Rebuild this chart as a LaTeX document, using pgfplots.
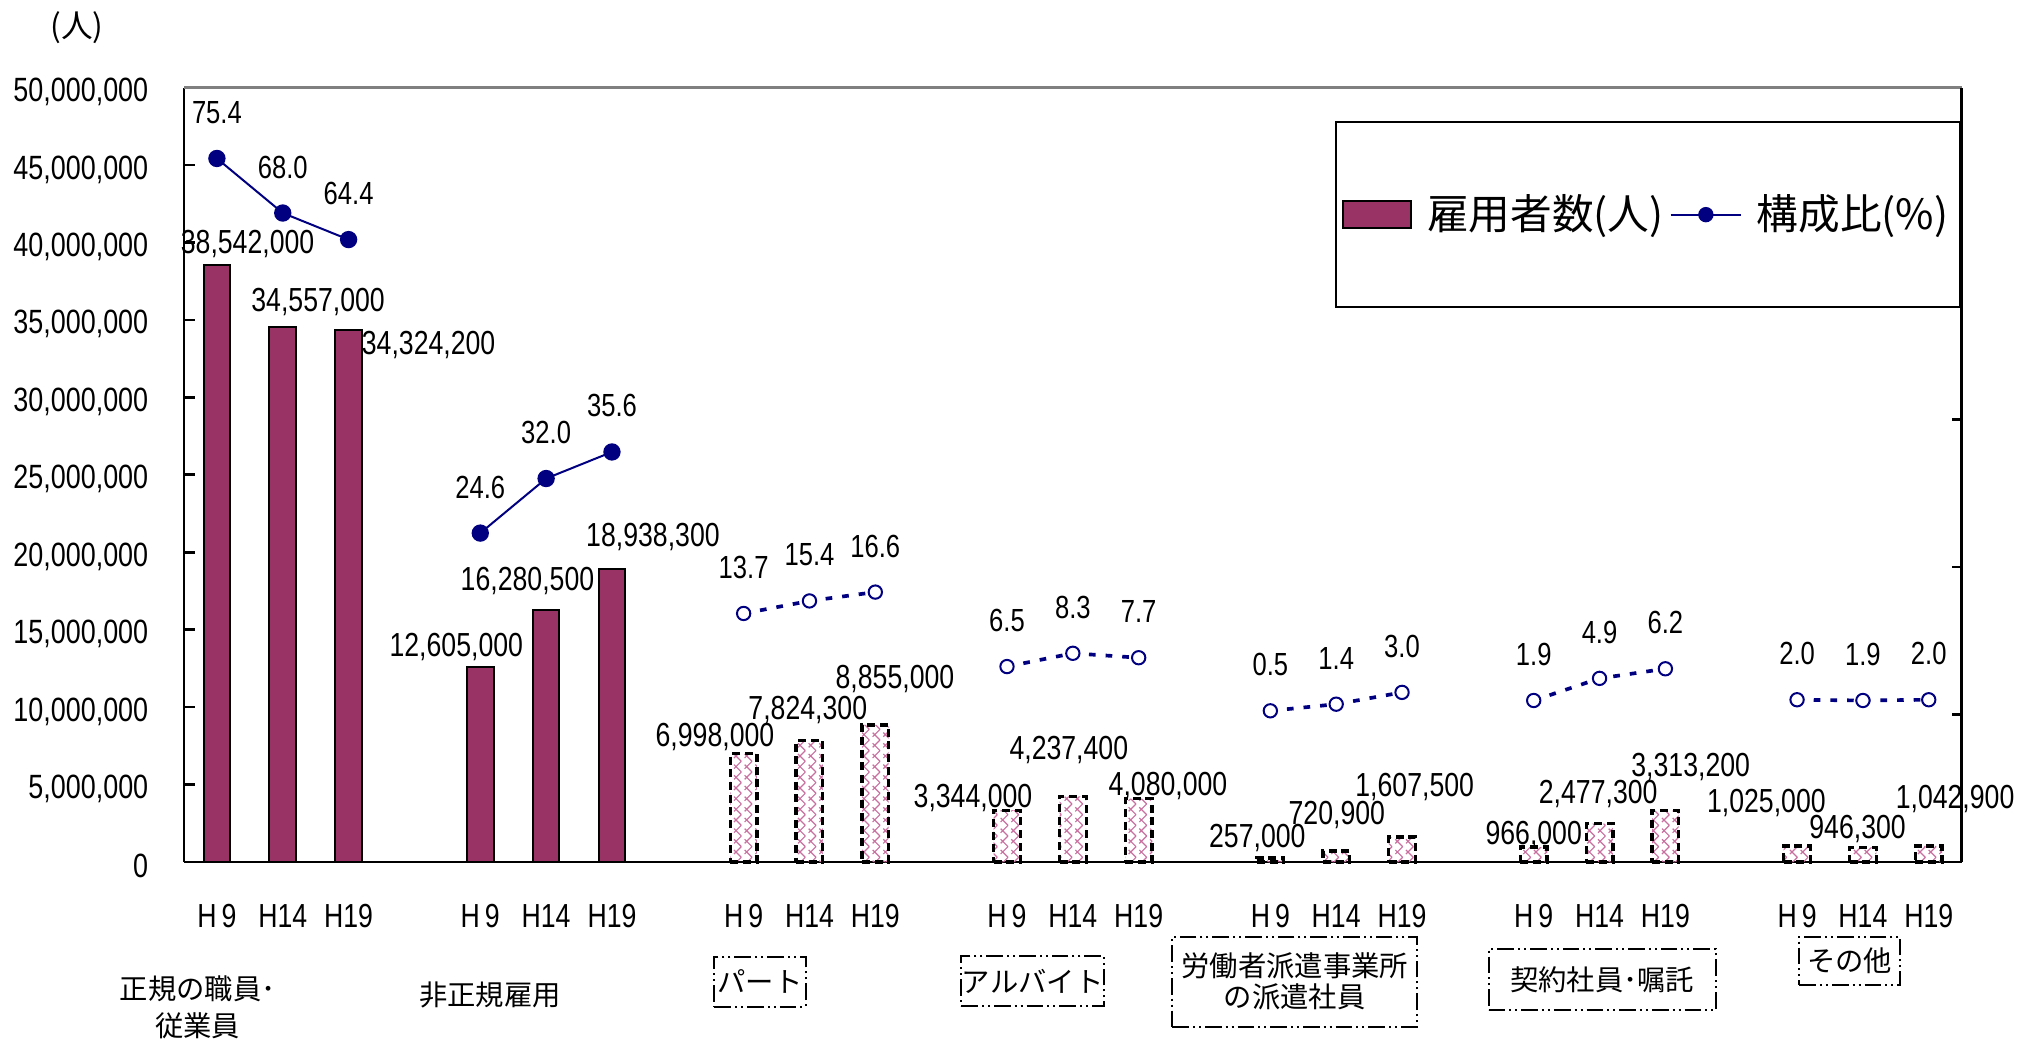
\documentclass[border=0pt]{standalone}
\usepackage{fontspec}
\setmainfont{Liberation Sans}[FakeStretch=0.8]
\newfontfamily\jp{Noto Sans CJK JP}
\usepackage{pgfplots}
\usepackage{pgfplotstable}
\pgfplotsset{compat=1.18}
\usetikzlibrary{patterns}

\definecolor{barcol}{HTML}{993366}
\definecolor{hatchcol}{HTML}{C8709F}
\definecolor{navy}{HTML}{000080}

% diagonal cross hatch for the non-regular breakdown bars
\pgfdeclarepatternformonly{xhatch}{\pgfqpoint{-0.5pt}{-0.5pt}}{\pgfqpoint{3.7pt}{3.7pt}}{\pgfqpoint{3.2pt}{3.2pt}}{%
  \pgfsetlinewidth{0.35pt}%
  \pgfpathmoveto{\pgfqpoint{-0.1pt}{-0.1pt}}\pgfpathlineto{\pgfqpoint{3.3pt}{3.3pt}}%
  \pgfpathmoveto{\pgfqpoint{-0.1pt}{3.3pt}}\pgfpathlineto{\pgfqpoint{3.3pt}{-0.1pt}}%
  \pgfusepath{stroke}}

\pgfplotsset{
  barlegend/.style={legend image code/.code={\draw[##1] (0pt,-4.1pt) rectangle (20.6pt,4.1pt);}},
  linelegend/.style={legend image code/.code={\draw[mark repeat=2, mark phase=2, mark size=2pt, ##1]
    plot coordinates {(0pt,0pt) (10.6pt,0pt) (21.2pt,0pt)};}},
}

% x = slot, dx/dy = label shift in pt
\pgfplotstableread{
x y dx dy lbl
0 38542000 9.2 6.2 38,542,000
1 34557000 10.6 7.3 34,557,000
2 34324200 24.0 -4.5 34,324,200
4 12605000 -7.2 6.0 12,605,000
5 16280500 -5.6 8.6 16,280,500
6 18938300 12.3 9.6 18,938,300
}\regular

\pgfplotstableread{
x y dx dy lbl
8 6998000 -8.6 5.1 6,998,000
9 7824300 -0.5 9.3 7,824,300
10 8855000 5.9 13.8 8,855,000
12 3344000 -10.2 3.8 3,344,000
13 4237400 -1.2 13.8 4,237,400
14 4080000 8.8 3.8 4,080,000
16 257000 -3.9 6.0 257,000
17 720900 0.2 10.7 720,900
18 1607500 3.8 15.1 1,607,500
20 966000 0.0 3.6 966,000
21 2477300 -0.4 8.8 2,477,300
22 3313200 7.6 13.0 3,313,200
24 1025000 -9.2 12.8 1,025,000
25 946300 -1.6 5.4 946,300
26 1042900 7.9 14.0 1,042,900
}\nonregular

\pgfplotstableread{
x y lbl
0 75.4 75.4
1 68.0 68.0
2 64.4 64.4
3 nan -
4 24.6 24.6
5 32.0 32.0
6 35.6 35.6
}\pctsolid

\pgfplotstableread{
x y lbl
8 13.7 13.7
9 15.4 15.4
10 16.6 16.6
11 nan -
12 6.5 6.5
13 8.3 8.3
14 7.7 7.7
15 nan -
16 0.5 0.5
17 1.4 1.4
18 3.0 3.0
19 nan -
20 1.9 1.9
21 4.9 4.9
22 6.2 6.2
23 nan -
24 2.0 2.0
25 1.9 1.9
26 2.0 2.0
}\pctdash

\tikzset{gframe/.style={draw, line width=0.6pt,
  dash pattern=on 5pt off 1.2pt on 0.6pt off 1.2pt on 0.6pt off 1.2pt,
  inner sep=0pt, align=center, font=\jp\fontsize{8.5}{9.3}\selectfont}}

\begin{document}
\begin{tikzpicture}
\path[use as bounding box] (-55.2pt,-54.6pt) rectangle (549.9pt,258.6pt);

\begin{axis}[
  at={(0,0)}, anchor=south west,
  scale only axis, width=533.3pt, height=232.3pt,
  xmin=-0.5, xmax=26.5, ymin=0, ymax=50000000,
  axis x line*=bottom, axis y line*=left,
  axis line style={line width=0.8pt},
  clip=false,
  xtick={0,1,2,4,5,6,8,9,10,12,13,14,16,17,18,20,21,22,24,25,26},
  xticklabels={H\hspace{1.5pt}9,H14,H19,H\hspace{1.5pt}9,H14,H19,H\hspace{1.5pt}9,H14,H19,
    H\hspace{1.5pt}9,H14,H19,H\hspace{1.5pt}9,H14,H19,H\hspace{1.5pt}9,H14,H19,H\hspace{1.5pt}9,H14,H19},
  xtick style={draw=none},
  xticklabel style={font=\fontsize{10}{11}\selectfont, anchor=center, yshift=-16.2pt},
  ytick distance=5000000,
  scaled y ticks=false,
  yticklabel style={/pgf/number format/.cd, fixed, precision=0, 1000 sep={,},
    assume math mode=true, /tikz/.cd,
    font=\fontsize{10.1}{11}\selectfont, xshift=-7.2pt, yshift=-1.3pt},
  tick align=inside, major tick length=3.2pt,
  ytick style={line width=0.8pt, black},
]
\addplot[ybar, bar width=8pt, bar shift=0pt, fill=barcol, draw=black, line width=0.6pt,
  nodes near coords, point meta=explicit symbolic,
  visualization depends on={\thisrow{dx}\as\dx},
  visualization depends on={\thisrow{dy}\as\dy},
  every node near coord/.append style={anchor=center, xshift=\dx pt, yshift=\dy pt,
    text=black, font=\fontsize{10}{11}\selectfont}]
  table[x=x, y=y, meta=lbl]{\regular};

\addplot[ybar, bar width=8pt, bar shift=0pt, pattern=xhatch, pattern color=hatchcol,
  draw=black, line width=1pt, dash pattern=on 2.4pt off 1.4pt,
  nodes near coords, point meta=explicit symbolic,
  visualization depends on={\thisrow{dx}\as\dx},
  visualization depends on={\thisrow{dy}\as\dy},
  every node near coord/.append style={anchor=center, xshift=\dx pt, yshift=\dy pt,
    text=black, font=\fontsize{10}{11}\selectfont, solid}]
  table[x=x, y=y, meta=lbl]{\nonregular};

\draw[gray, line width=0.8pt] (rel axis cs:0,1) -- (rel axis cs:1,1);

\node[font=\jp\fontsize{9.5}{10}\selectfont] at ([xshift=-32.1pt, yshift=17.9pt]rel axis cs:0,1) {(人)};

\node[align=center, font=\jp\fontsize{8.5}{11.2}\selectfont] at (axis cs:-0.29,-9400000) {正規の職員･\\従業員};
\node[font=\jp\fontsize{8.5}{9.3}\selectfont] at (axis cs:4.15,-8600000) {非正規雇用};
\node[gframe, minimum width=27.4pt, minimum height=15pt] at (axis cs:8.25,-7730000) {パート};
\node[gframe, minimum width=42.8pt, minimum height=15.1pt] at (axis cs:12.39,-7680000) {アルバイト};
\node[gframe, minimum width=73.4pt, minimum height=27pt] at (axis cs:16.37,-7730000) {労働者派遣事業所\\の派遣社員};
\node[gframe, minimum width=68.2pt, minimum height=18.2pt] at (axis cs:21.04,-7600000) {契約社員･嘱託};
\node[gframe, minimum width=30.3pt, minimum height=14.5pt] at (axis cs:24.8,-6380000) {その他};
\end{axis}

\begin{axis}[
  at={(0,0)}, anchor=south west,
  scale only axis, width=533.3pt, height=232.3pt,
  xmin=-0.5, xmax=26.5, ymin=-20, ymax=85,
  axis x line=none, axis y line*=right, xtick=\empty,
  axis line style={line width=0.8pt},
  ytick={0,20,40,60,80}, yticklabels={},
  tick align=inside, major tick length=3pt,
  ytick style={line width=0.8pt, black},
  clip=false, unbounded coords=jump,
  legend style={at={(0.6475,0.957)}, anchor=north west, draw=black, line width=0.6pt,
    fill=white, inner xsep=1.7pt, inner ysep=19.8pt,
    font=\jp\fontsize{12.5}{13}\selectfont,
    nodes={inner xsep=1.8pt},
    /tikz/every odd column/.append style={column sep=2.6pt}},
  legend columns=2,
]
\addlegendimage{fill=barcol, draw=black, line width=0.6pt, barlegend}
\addlegendentry{雇用者数(人)}

\addplot[navy, line width=0.6pt, mark=*, mark size=2.3pt, mark options={fill=navy, draw=navy},
  nodes near coords, point meta=explicit symbolic,
  every node near coord/.append style={anchor=center, yshift=13.8pt, text=black,
    font=\fontsize{9.6}{10}\selectfont},
  linelegend]
  table[x=x, y=y, meta=lbl]{\pctsolid};
\addlegendentry{構成比(\%)}

\addplot[forget plot, navy, line width=1.1pt, dash pattern=on 2pt off 3pt,
  mark=*, mark size=2pt, mark options={solid, fill=white, draw=navy, line width=0.6pt},
  nodes near coords, point meta=explicit symbolic,
  every node near coord/.append style={anchor=center, yshift=13.8pt, text=black,
    font=\fontsize{9.6}{10}\selectfont}]
  table[x=x, y=y, meta=lbl]{\pctdash};
\end{axis}
\end{tikzpicture}
\end{document}
